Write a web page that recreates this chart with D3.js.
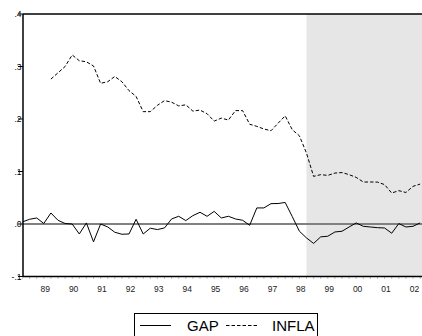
<!DOCTYPE html>
<html><head><meta charset="utf-8">
<script src="https://cdn.jsdelivr.net/npm/d3@7"></script>
<style>html,body{margin:0;padding:0;background:#fff;}svg{display:block;font-family:"Liberation Sans",Arial,sans-serif;}</style>
</head><body>
<script>
// Quarterly observations, index 0 = 1988Q3 ... 56 = 2002Q3
const firstYear = 1988, firstQuarter = 3;
const yearLabels = ["89","90","91","92","93","94","95","96","97","98","99","00","01","02"];
const yTicks = [-0.1, 0.0, 0.1, 0.2, 0.3, 0.4];
const yTickLabels = ["-.1", ".0", ".1", ".2", ".3", ".4"];
const gap = [0.004,0.009,0.0115,0.001,0.021,0.007,0.001,0.000,-0.019,0.002,
  -0.034,0.000,-0.0056,-0.0157,-0.0195,-0.019,0.009,-0.019,-0.008,-0.0106,
  -0.0075,0.0096,0.0147,0.0065,0.016,0.0223,0.0147,0.024,0.0115,0.0147,
  0.0096,0.0071,-0.0024,0.0306,0.0306,0.0388,0.039,0.041,0.014,-0.0138,
  -0.0265,-0.037,-0.0245,-0.0233,-0.0152,-0.0138,-0.0057,0.002,-0.0044,-0.0057,
  -0.007,-0.0076,-0.0176,0.0008,-0.0057,-0.0044,0.002];
const infla = [null,null,null,null,0.276,0.288,0.300,0.322,0.311,0.309,
  0.301,0.268,0.271,0.281,0.271,0.254,0.243,0.214,0.214,0.226,
  0.235,0.232,0.225,0.227,0.215,0.217,0.210,0.196,0.2017,0.198,
  0.216,0.216,0.190,0.186,0.181,0.1776,0.192,0.206,0.1795,0.168,
  0.135,0.0907,0.094,0.0926,0.097,0.098,0.094,0.0888,0.080,0.080,
  0.0798,0.075,0.059,0.0635,0.060,0.0717,0.076];
const shadeStart = 40; // 1998Q3
const seriesNames = ["GAP","INFLA"];

(function () {
const W = 422, H = 336;
const pL = 23, pT = 14, pB = 276.5, pR = 425;
const svg = d3.select("body").append("svg").attr("width", W).attr("height", H);

const x = d3.scaleLinear().domain([0, 56]).range([22.5, 420.1]);
const y = d3.scaleLinear().domain([-0.1, 0.4]).range([pB, pT]);

// shaded forecast region
svg.append("rect").attr("x", x(shadeStart)).attr("y", pT)
  .attr("width", pR - x(shadeStart)).attr("height", pB - pT).attr("fill", "#e6e6e6");

// zero line
svg.append("line").attr("x1", pL).attr("x2", pR).attr("y1", y(0)).attr("y2", y(0))
  .attr("stroke", "#808080").attr("stroke-width", 2);

// quarter minor ticks on bottom axis
const qIdx = d3.range(0, 57);
svg.append("g").selectAll("line").data(qIdx).join("line")
  .attr("x1", d => x(d)).attr("x2", d => x(d)).attr("y1", pB).attr("y2", pB + 2.5)
  .attr("stroke", "#aaa").attr("stroke-width", 0.7);

// frame
svg.append("line").attr("x1", pL).attr("x2", pR).attr("y1", pT).attr("y2", pT).attr("stroke", "#000").attr("stroke-width", 1.5);
svg.append("line").attr("x1", pL).attr("x2", pR).attr("y1", pB).attr("y2", pB).attr("stroke", "#000").attr("stroke-width", 1.5);
svg.append("line").attr("x1", pL).attr("x2", pL).attr("y1", pT).attr("y2", pB).attr("stroke", "#000").attr("stroke-width", 1.5);

// y axis ticks and labels
const yg = svg.append("g");
yg.selectAll("line").data(yTicks).join("line")
  .attr("x1", pL - 5).attr("x2", pL).attr("y1", d => y(d)).attr("y2", d => y(d))
  .attr("stroke", "#000").attr("stroke-width", 1);
yg.selectAll("text").data(yTicks).join("text")
  .attr("x", pL - 1.5).attr("y", d => y(d) + 3).attr("text-anchor", "end")
  .attr("font-size", 8.5).attr("fill", "#000").text((d, i) => yTickLabels[i]);

// x labels (centered under each year's quarters)
const startOffset = (4 - firstQuarter + 1); // index of first Q1
svg.append("g").selectAll("text").data(yearLabels).join("text")
  .attr("x", (d, i) => x(startOffset + 4 * i + 1.2))
  .attr("y", 292).attr("text-anchor", "middle").attr("font-size", 8.5).attr("fill", "#222")
  .text(d => d);

// lines
const lineGen = d3.line().defined(d => d != null).x((d, i) => x(i)).y(d => y(d));
svg.append("path").datum(infla).attr("d", lineGen).attr("fill", "none")
  .attr("stroke", "#000").attr("stroke-width", 1).attr("stroke-dasharray", "3.5,2");
svg.append("path").datum(gap).attr("d", lineGen).attr("fill", "none")
  .attr("stroke", "#000").attr("stroke-width", 1);

// legend
const lg = svg.append("g");
lg.append("rect").attr("x", 134.5).attr("y", 313.5).attr("width", 183).attr("height", 30)
  .attr("fill", "#fff").attr("stroke", "#000").attr("stroke-width", 1);
lg.append("line").attr("x1", 140).attr("x2", 171).attr("y1", 325.5).attr("y2", 325.5).attr("stroke", "#000").attr("stroke-width", 1);
lg.append("text").attr("x", 187).attr("y", 331).attr("font-size", 15).attr("fill", "#000").text(seriesNames[0]);
lg.append("line").attr("x1", 226).attr("x2", 257).attr("y1", 325.5).attr("y2", 325.5).attr("stroke", "#000").attr("stroke-width", 1).attr("stroke-dasharray", "3.5,2");
lg.append("text").attr("x", 272).attr("y", 331).attr("font-size", 15).attr("fill", "#000").text(seriesNames[1]);
})();
</script>
</body></html>
